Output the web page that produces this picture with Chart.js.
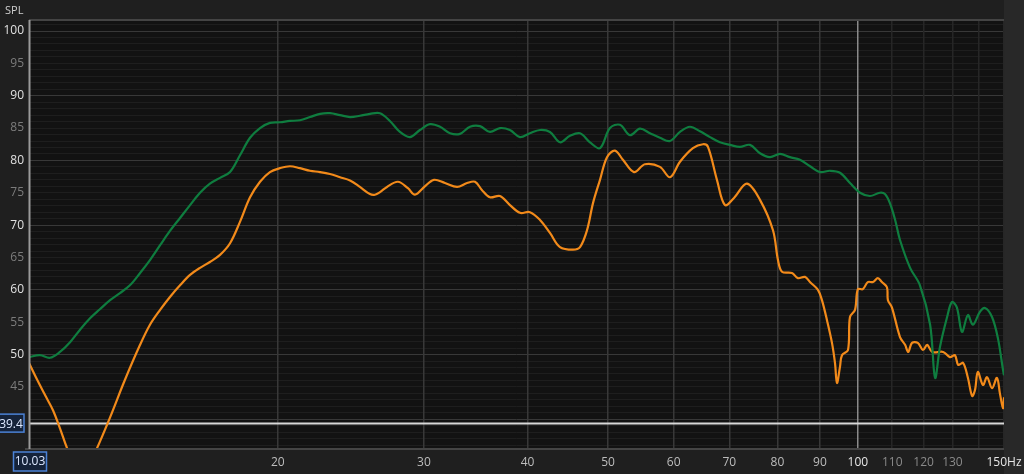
<!DOCTYPE html>
<html>
<head>
<meta charset="utf-8">
<script src="https://cdn.jsdelivr.net/npm/chart.js@4/dist/chart.umd.min.js"></script>
<style>
  html, body { margin: 0; padding: 0; background: #1f1f1f; }
  #wrap { position: relative; width: 1024px; height: 474px; }
</style>
</head>
<body>
<div id="wrap"><canvas id="spl"></canvas></div>
<script>
// SPL curves (Hz / dB)
const greenFreq = [10.03, 10.34, 10.63, 10.93, 11.24, 11.55, 11.88, 12.21, 12.56, 12.91, 13.27, 13.65, 14.03, 14.43, 14.83, 15.25, 15.68, 16.12, 16.57, 17.04, 17.52, 18.01, 18.52, 19.04, 19.57, 20.12, 20.69, 21.27, 21.87, 22.49, 23.12, 23.77, 24.44, 25.12, 25.83, 26.56, 27.30, 28.07, 28.86, 29.67, 30.51, 31.37, 32.25, 33.16, 34.09, 35.05, 36.03, 37.05, 38.09, 39.16, 40.26, 41.40, 42.56, 43.76, 44.99, 46.26, 47.56, 48.90, 50.27, 51.68, 53.14, 54.63, 56.17, 57.75, 59.38, 61.05, 62.76, 64.53, 66.35, 68.21, 70.13, 72.10, 74.13, 76.22, 78.36, 80.57, 82.83, 85.16, 87.56, 90.02, 92.56, 95.16, 97.84, 100.6, 103.4, 106.3, 107.8, 109.3, 110.9, 112.4, 115.6, 118.8, 122.2, 123.9, 125.6, 128.1, 129.8, 131.6, 133.5, 135.7, 137.6, 140.3, 142.3, 145.1, 147.5, 149.6, 150.0];
const greenSpl = [49.6, 49.9, 49.5, 50.4, 51.9, 53.8, 55.6, 57.0, 58.4, 59.5, 60.7, 62.6, 64.6, 66.9, 69.1, 71.1, 73.1, 75.0, 76.4, 77.3, 78.2, 80.8, 83.5, 85.0, 85.8, 85.9, 86.1, 86.2, 86.7, 87.2, 87.3, 87.0, 86.7, 86.9, 87.2, 87.3, 86.1, 84.4, 83.6, 84.7, 85.6, 85.2, 84.2, 84.1, 85.2, 85.3, 84.4, 85.0, 84.7, 83.6, 84.2, 84.7, 84.4, 82.8, 83.8, 84.2, 82.8, 81.9, 85.0, 85.5, 83.9, 84.9, 84.2, 83.5, 83.0, 84.4, 85.2, 84.5, 83.6, 82.8, 82.4, 82.1, 82.4, 81.1, 80.5, 81.0, 80.5, 80.1, 79.1, 78.2, 78.4, 78.1, 76.5, 75.0, 74.5, 75.0, 74.8, 73.4, 70.8, 67.7, 63.4, 60.7, 54.6, 46.4, 51.2, 55.8, 58.1, 57.3, 53.5, 56.1, 54.6, 56.6, 57.2, 55.8, 52.5, 47.6, 46.8];

const orangeFreq = [10.03, 10.26, 10.49, 10.72, 10.93, 11.15, 11.40, 11.62, 11.88, 12.11, 12.56, 13.09, 13.65, 14.03, 14.43, 14.83, 15.25, 15.68, 16.12, 16.57, 17.04, 17.52, 18.01, 18.52, 19.04, 19.57, 20.12, 20.69, 21.27, 21.87, 22.49, 23.12, 23.77, 24.44, 25.12, 25.83, 26.19, 26.56, 27.08, 27.91, 28.70, 29.26, 30.08, 30.85, 31.81, 32.89, 33.81, 34.57, 35.25, 36.03, 37.05, 38.09, 39.16, 40.26, 41.40, 42.56, 43.76, 45.37, 46.26, 47.17, 47.96, 48.90, 49.86, 50.97, 52.11, 53.74, 55.39, 57.75, 59.38, 61.05, 63.28, 65.07, 65.98, 67.64, 69.16, 70.92, 73.51, 76.22, 79.02, 80.12, 81.02, 83.29, 84.69, 86.35, 87.56, 89.52, 90.52, 91.79, 93.07, 93.85, 94.37, 95.16, 95.69, 97.30, 97.84, 99.21, 100.0, 101.4, 102.8, 104.3, 105.7, 106.9, 108.4, 108.7, 109.9, 112.4, 114.0, 115.0, 116.2, 118.1, 119.8, 121.2, 122.9, 126.7, 129.1, 130.9, 132.1, 133.9, 135.7, 137.3, 138.4, 139.5, 141.5, 143.1, 145.1, 147.1, 148.3, 149.6, 150.0];
const orangeSpl = [48.7, 46.1, 43.7, 41.4, 38.6, 35.5, 32.9, 32.1, 33.4, 35.5, 40.3, 46.1, 51.5, 54.6, 56.9, 58.9, 60.7, 62.3, 63.4, 64.3, 65.4, 67.2, 70.5, 74.3, 76.7, 78.2, 78.8, 79.1, 78.8, 78.4, 78.2, 77.9, 77.4, 76.9, 75.9, 74.8, 74.7, 75.1, 75.9, 76.7, 75.7, 74.7, 76.0, 77.0, 76.5, 75.9, 76.5, 76.7, 75.4, 74.3, 74.5, 73.1, 71.9, 72.0, 70.8, 68.8, 66.6, 66.2, 66.6, 69.2, 73.4, 77.0, 80.5, 81.5, 80.1, 78.2, 79.4, 79.0, 77.4, 79.8, 81.9, 82.5, 82.1, 77.0, 73.1, 74.2, 76.4, 73.9, 69.2, 64.6, 62.8, 62.6, 61.8, 62.0, 61.2, 60.0, 58.4, 55.3, 51.8, 48.7, 45.6, 48.1, 49.9, 50.7, 55.8, 56.9, 60.1, 60.1, 61.2, 61.2, 61.8, 61.2, 60.4, 58.4, 57.3, 52.7, 51.5, 50.4, 51.8, 51.8, 50.7, 51.5, 50.4, 50.4, 49.6, 49.9, 48.4, 48.7, 46.4, 43.6, 44.5, 47.3, 45.3, 46.5, 44.8, 46.4, 44.0, 41.7, 43.4];

// axes
const xTicks = [20, 30, 40, 50, 60, 70, 80, 90, 100, 110, 120, 130, 140, 150];
const xLabels = ["20", "30", "40", "50", "60", "70", "80", "90", "100", "110", "120", "130", "", "150Hz"];
const yLabels = [45, 50, 55, 60, 65, 70, 75, 80, 85, 90, 95, 100];
const xMin = 10.03, xMax = 150;
const yMin = 35.4, yMax = 101.7;

// cursor readout
const cursorFreq = 10.03;
const cursorSpl = 39.4;

const FONT = "'Open Sans', 'Noto Sans', sans-serif";

function xTickColor(v) {
  if (v === 100 || v === 150) return "#e6e6e6";
  if (v > 100) return "#8a8a8a";
  return "#bdbdbd";
}
function xGridColor(v) {
  if (v === 100) return "#8a8a8a";
  if (v > 100) return "#262626";
  return "#383838";
}

// plot background, frame, cursor lines and boxes
const decor = {
  id: "decor",
  beforeDatasetsDraw(chart) {
    const { ctx } = chart;
    const a = chart.chartArea;
    const ys = chart.scales.y;
    ctx.save();
    const cy = Math.round(ys.getPixelForValue(cursorSpl)) + 0.5;
    ctx.strokeStyle = "#d8d8d8";
    ctx.lineWidth = 2;
    ctx.beginPath();
    ctx.moveTo(a.left, cy);
    ctx.lineTo(a.right, cy);
    ctx.stroke();
    ctx.restore();
  },
  beforeDraw(chart) {
    const { ctx } = chart;
    const a = chart.chartArea;
    ctx.save();
    ctx.fillStyle = "#282828";
    ctx.fillRect(a.right, 0, chart.width - a.right, chart.height);
    ctx.fillStyle = "#121212";
    ctx.fillRect(a.left, a.top, a.right - a.left, a.bottom - a.top);
    ctx.restore();
  },
  afterDraw(chart) {
    const { ctx } = chart;
    const a = chart.chartArea;
    const xs = chart.scales.x, ys = chart.scales.y;
    ctx.save();
    // frame
    ctx.strokeStyle = "#444";
    ctx.lineWidth = 2;
    ctx.beginPath();
    ctx.moveTo(a.left, a.top);
    ctx.lineTo(a.right, a.top);
    ctx.moveTo(a.left - 4, a.bottom);
    ctx.lineTo(a.right, a.bottom);
    ctx.stroke();
    // vertical cursor at the left edge
    const cx = Math.round(xs.getPixelForValue(cursorFreq)) + 0.5;
    ctx.strokeStyle = "#9a9a9a";
    ctx.lineWidth = 2;
    ctx.beginPath();
    ctx.moveTo(cx, a.top);
    ctx.lineTo(cx, a.bottom);
    ctx.stroke();

    // SPL caption
    ctx.fillStyle = "#cfcfcf";
    ctx.font = "11px " + FONT;
    ctx.textAlign = "left";
    ctx.textBaseline = "middle";
    ctx.fillText("SPL", 5, 11);

    // cursor boxes
    ctx.font = "12px " + FONT;
    ctx.textAlign = "center";
    const cy = ys.getPixelForValue(cursorSpl);
    ctx.fillStyle = "#15233a";
    ctx.strokeStyle = "#4b82d6";
    ctx.lineWidth = 1.5;
    ctx.fillRect(-2, cy - 9, 26, 18);
    ctx.strokeRect(-2, cy - 9, 26, 18);
    ctx.fillStyle = "#dde8ff";
    ctx.fillText(String(cursorSpl), 11, cy + 1);

    ctx.fillStyle = "#15233a";
    ctx.fillRect(cx - 16, a.bottom + 3, 33, 19);
    ctx.strokeRect(cx - 16, a.bottom + 3, 33, 19);
    ctx.fillStyle = "#dde8ff";
    ctx.fillText(String(cursorFreq), cx + 0.5, a.bottom + 13);
    ctx.restore();
  }
};

new Chart(document.getElementById("spl"), {
  type: "line",
  data: {
    datasets: [
      {
        label: "Green",
        data: greenFreq.map((f, i) => ({ x: f, y: greenSpl[i] })),
        borderColor: "#0f7d3f",
        borderWidth: 2.2,
        pointRadius: 0,
        tension: 0.35,
        fill: false
      },
      {
        label: "Orange",
        data: orangeFreq.map((f, i) => ({ x: f, y: orangeSpl[i] })),
        borderColor: "#f28a1a",
        borderWidth: 2.2,
        pointRadius: 0,
        tension: 0.35,
        fill: false
      }
    ]
  },
  options: {
    responsive: true,
    maintainAspectRatio: false,
    animation: false,
    layout: { padding: { top: 20, right: 20, left: 0, bottom: 0 } },
    plugins: {
      legend: { display: false },
      tooltip: { enabled: false }
    },
    scales: {
      x: {
        type: "logarithmic",
        min: xMin,
        max: xMax,
        border: { display: false },
        afterBuildTicks: (s) => { s.ticks = xTicks.map(v => ({ value: v })); },
        afterFit: (s) => { s.height = 25; s.paddingLeft = 0; s.paddingRight = 0; },
        grid: {
          z: -1,
          drawTicks: false,
          lineWidth: 1.5,
          color: (c) => xGridColor(c.tick.value)
        },
        ticks: {
          autoSkip: false,
          maxRotation: 0,
          padding: 6,
          font: { family: FONT, size: 12 },
          color: (c) => xTickColor(c.tick.value),
          callback: (v) => { const i = xTicks.indexOf(v); return i < 0 ? "" : xLabels[i]; }
        }
      },
      y: {
        min: yMin,
        max: yMax,
        border: { display: false },
        afterBuildTicks: (s) => {
          const t = [];
          for (let v = Math.ceil(yMin); v <= Math.floor(yMax); v++) t.push({ value: v });
          s.ticks = t;
        },
        afterFit: (s) => { s.width = 29; s.paddingTop = 0; s.paddingBottom = 0; },
        grid: {
          z: -2,
          drawTicks: false,
          color: (c) => (c.tick.value % 10 === 0 ? "#383838" : "#1e1e1e")
        },
        ticks: {
          autoSkip: false,
          padding: 5,
          font: { family: FONT, size: 12 },
          color: (c) => (c.tick.value % 10 === 0 ? "#e0e0e0" : "#7c7c7c"),
          callback: (v) => (yLabels.includes(v) ? String(v) : "")
        }
      }
    }
  },
  plugins: [decor]
});
</script>
</body>
</html>
